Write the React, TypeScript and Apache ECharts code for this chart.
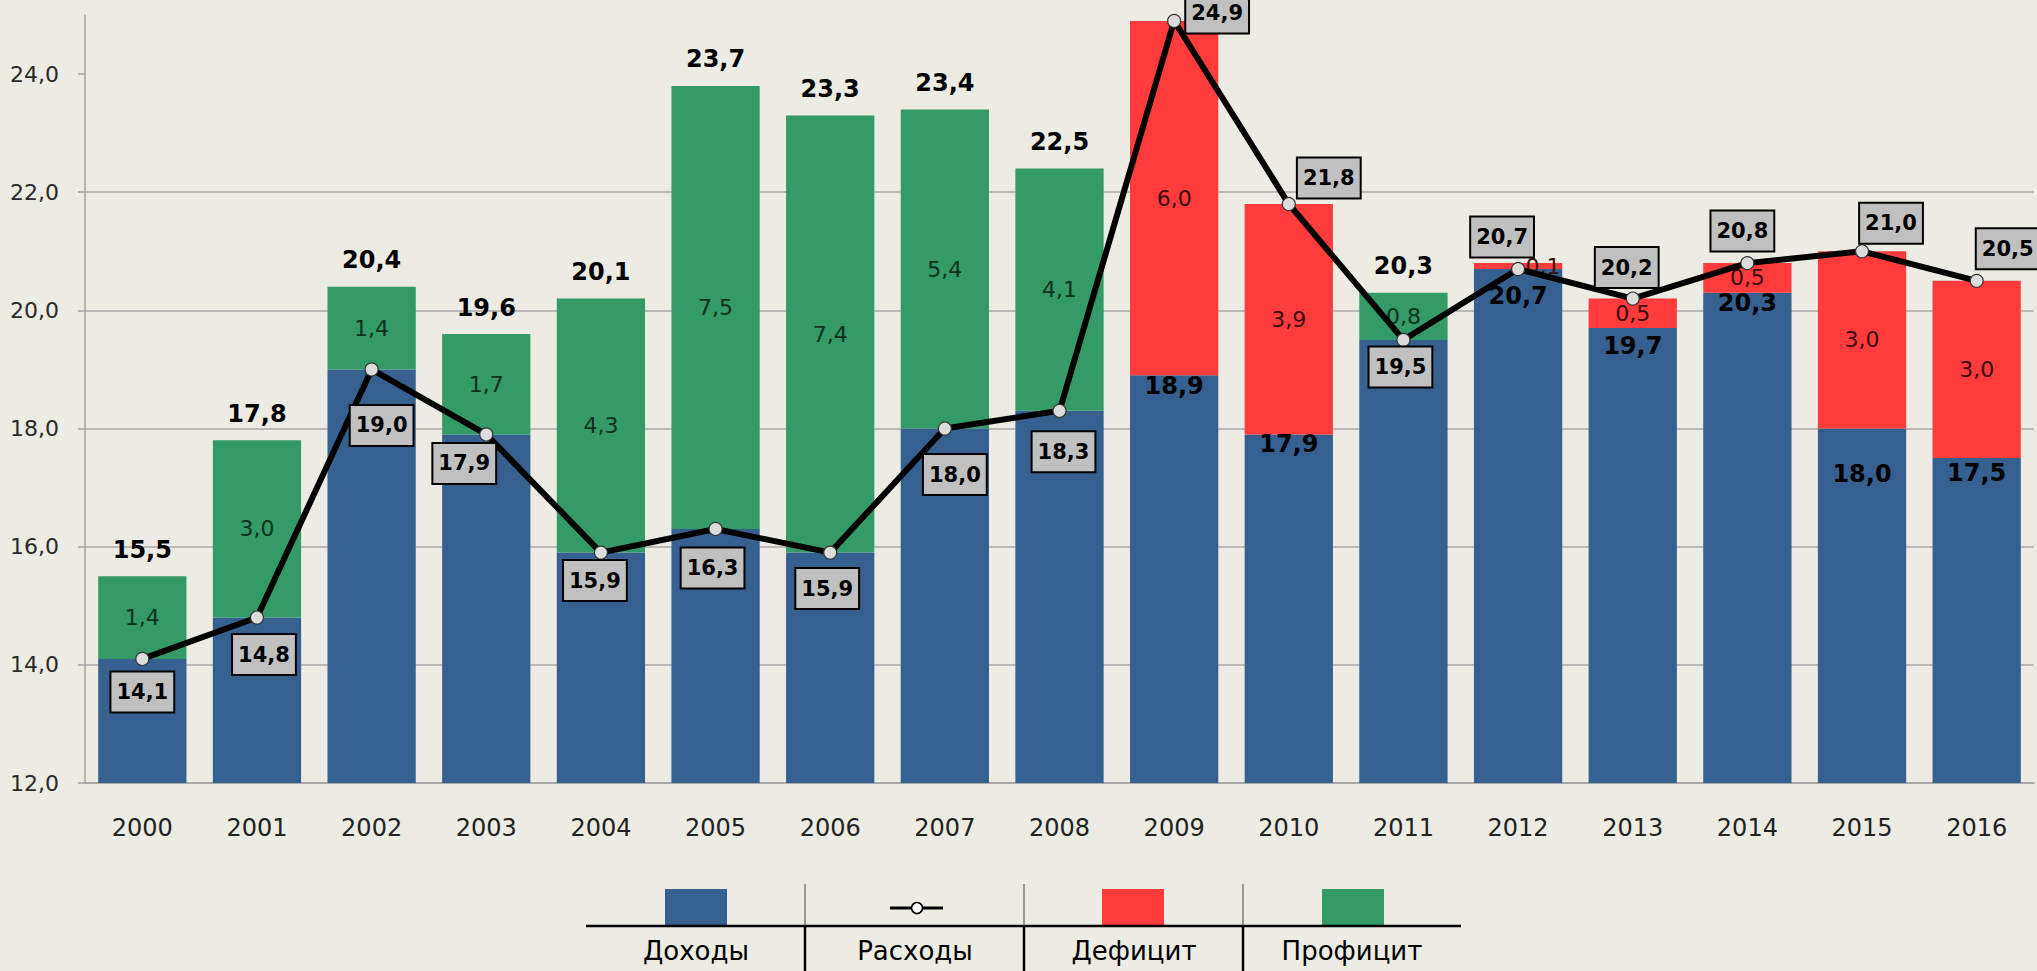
import React, { useEffect, useRef } from 'react';
import * as echarts from 'echarts';

const years = ['2000', '2001', '2002', '2003', '2004', '2005', '2006', '2007', '2008', '2009', '2010', '2011', '2012', '2013', '2014', '2015', '2016'];
const revenue = [14.1, 14.8, 19.0, 17.9, 15.9, 16.3, 15.9, 18.0, 18.3, 18.9, 17.9, 19.5, 20.7, 19.7, 20.3, 18.0, 17.5];
const expenses = [14.1, 14.8, 19.0, 17.9, 15.9, 16.3, 15.9, 18.0, 18.3, 24.9, 21.8, 19.5, 20.7, 20.2, 20.8, 21.0, 20.5];
const deficit = [null, null, null, null, null, null, null, null, null, 6.0, 3.9, null, 0.1, 0.5, 0.5, 3.0, 3.0];
const surplus = [1.4, 3.0, 1.4, 1.7, 4.3, 7.5, 7.4, 5.4, 4.1, null, null, 0.8, null, null, null, null, null];
const totals = [15.5, 17.8, 20.4, 19.6, 20.1, 23.7, 23.3, 23.4, 22.5, null, null, 20.3, null, null, null, null, null];
const yTicks = [12, 14, 16, 18, 20, 22, 24];
const legendNames = ['Доходы', 'Расходы', 'Дефицит', 'Профицит'];

// label nudges (styling only)
const expenseLabelOffset = [
  [0, 33], [7, 37], [10, 56], [-22, 29], [-6, 28], [-3, 39], [-3, 36], [10, 46], [4, 41],
  [43, -8], [40, -26], [-3, 27], [-16, -32], [-6, -31], [-5, -32], [29, -28], [31, -32],
];
const revenueLabelDy = [0, 0, 0, 0, 0, 0, 0, 0, 0, -6, -7, 0, 10, 1, -7, 28, -2];
const deficitLabelDx = [0, 0, 0, 0, 0, 0, 0, 0, 0, 0, 0, 0, 25, 0, 0, 0, 0];

const FONT = 'DejaVu Sans';
const BLUE = '#36608f';
const RED = '#ff3b3b';
const GREEN = '#349a68';
const GRID = '#a8a8a8';

const fmt = (v: number) => v.toFixed(1).replace('.', ',');

export default function App() {
  const ref = useRef<HTMLDivElement>(null);

  useEffect(() => {
    if (!ref.current) return;
    const chart = echarts.init(ref.current, undefined, { renderer: 'svg' });

    const cellCenters = [696, 915, 1134, 1352];
    const graphics: any[] = [
      { type: 'rect', shape: { x: 665, y: 889, width: 62, height: 37 }, style: { fill: BLUE } },
      { type: 'line', shape: { x1: 890, y1: 908, x2: 943, y2: 908 }, style: { stroke: '#000', lineWidth: 3 } },
      { type: 'circle', shape: { cx: 917, cy: 908, r: 5.5 }, style: { fill: '#fff', stroke: '#000', lineWidth: 1.5 }, z: 101 },
      { type: 'rect', shape: { x: 1102, y: 889, width: 62, height: 37 }, style: { fill: RED } },
      { type: 'rect', shape: { x: 1322, y: 889, width: 62, height: 37 }, style: { fill: GREEN } },
      { type: 'line', shape: { x1: 586, y1: 926, x2: 1461, y2: 926 }, style: { stroke: '#000', lineWidth: 2.5 } },
    ];
    [805, 1024, 1243].forEach((x) => {
      graphics.push({ type: 'line', shape: { x1: x, y1: 884, x2: x, y2: 926 }, style: { stroke: '#444', lineWidth: 1 } });
      graphics.push({ type: 'line', shape: { x1: x, y1: 926, x2: x, y2: 971 }, style: { stroke: '#000', lineWidth: 2.5 } });
    });
    legendNames.forEach((name, i) => {
      graphics.push({
        type: 'text',
        x: cellCenters[i],
        y: 951,
        style: { text: name, fontFamily: FONT, fontSize: 26, fill: '#000', align: 'center', verticalAlign: 'middle' },
      });
    });

    const option: any = {
      animation: false,
      backgroundColor: '#edece4',
      textStyle: { fontFamily: FONT },
      grid: { left: 85, right: 3, top: 15, bottom: 188, containLabel: false },
      xAxis: {
        type: 'category',
        data: years,
        axisLine: { lineStyle: { color: '#a3a3a3', width: 1.5 } },
        axisTick: { show: false },
        axisLabel: { fontFamily: FONT, fontSize: 24, color: '#222', margin: 33 },
      },
      yAxis: {
        type: 'value',
        min: 12,
        max: 25,
        interval: 2,
        axisLine: { show: true, lineStyle: { color: '#a3a3a3', width: 1.5 } },
        axisTick: { show: true, length: 7, lineStyle: { color: '#a3a3a3', width: 1.5 }, customValues: yTicks },
        axisLabel: { customValues: yTicks, formatter: (v: number) => fmt(v), fontFamily: FONT, fontSize: 22, color: '#2a2a2a', margin: 26 },
        splitLine: { show: true, showMaxLine: false, lineStyle: { color: GRID, width: 1.5 } },
      },
      series: [
        {
          name: 'Доходы',
          type: 'bar',
          stack: 'a',
          barWidth: '77%',
          itemStyle: { color: BLUE },
          data: revenue.map((v, i) => ({
            value: v,
            label: {
              show: deficit[i] != null,
              position: 'insideTop',
              offset: [0, revenueLabelDy[i]],
              formatter: () => fmt(v),
              fontFamily: FONT,
              fontSize: 24,
              fontWeight: 'bold',
              color: '#000',
            },
          })),
        },
        {
          name: 'Дефицит',
          type: 'bar',
          stack: 'a',
          itemStyle: { color: RED },
          data: deficit.map((v, i) => (v == null ? '-' : {
            value: v,
            label: {
              show: true,
              position: 'inside',
              offset: [deficitLabelDx[i], 0],
              formatter: () => fmt(v),
              fontFamily: FONT,
              fontSize: 22,
              color: '#3a0d0d',
            },
          })),
        },
        {
          name: 'Профицит',
          type: 'bar',
          stack: 'a',
          itemStyle: { color: GREEN },
          data: surplus.map((v) => (v == null ? '-' : {
            value: v,
            label: {
              show: true,
              position: 'inside',
              formatter: () => fmt(v),
              fontFamily: FONT,
              fontSize: 22,
              color: '#10301c',
            },
          })),
        },
        {
          name: 'Итого',
          type: 'scatter',
          symbol: 'circle',
          symbolSize: 1,
          itemStyle: { color: 'rgba(0,0,0,0)', opacity: 1 },
          z: 5,
          data: totals.map((t, i) => (t == null ? '-' : revenue[i] + (surplus[i] ?? 0))),
          label: {
            show: true,
            position: 'top',
            distance: 14,
            formatter: (p: any) => fmt(totals[p.dataIndex] as number),
            fontFamily: FONT,
            fontSize: 24,
            fontWeight: 'bold',
            color: '#000',
            textBorderWidth: 0,
          },
        },
        {
          name: 'Расходы',
          type: 'line',
          z: 6,
          symbol: 'circle',
          symbolSize: 13,
          lineStyle: { color: '#000', width: 6 },
          itemStyle: { color: '#dcdcdc', borderColor: '#333', borderWidth: 1.2 },
          data: expenses.map((v, i) => ({
            value: v,
            label: { offset: expenseLabelOffset[i] },
          })),
          label: {
            show: true,
            position: 'inside',
            formatter: (p: any) => fmt(p.value),
            fontFamily: FONT,
            fontSize: 21,
            fontWeight: 'bold',
            color: '#000',
            backgroundColor: '#c0c0c0',
            borderColor: '#000',
            borderWidth: 2,
            padding: [9, 5],
          },
        },
      ],
      graphic: graphics,
    };

    chart.setOption(option);
    return () => chart.dispose();
  }, []);

  return (
    <div
      ref={ref}
      style={{ position: 'absolute', left: 0, top: 0, width: 2037, height: 971 }}
    />
  );
}
